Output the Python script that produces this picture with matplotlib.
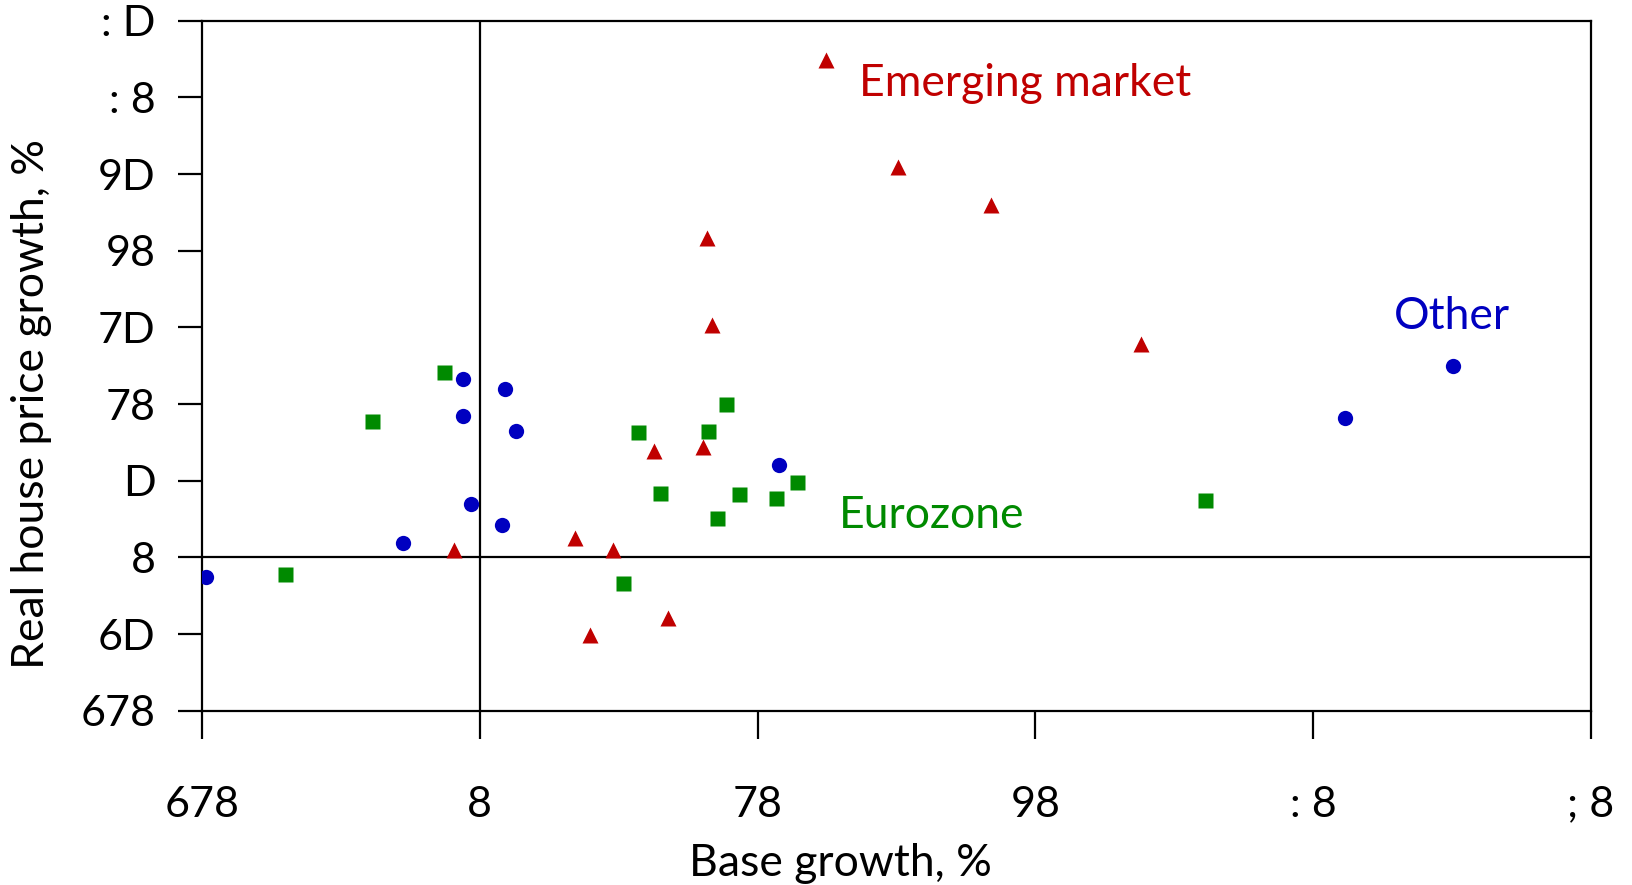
import matplotlib
matplotlib.use("Agg")
import matplotlib.pyplot as plt

plt.rcParams['font.family'] = ['Lato', 'DejaVu Sans']

# Base growth (%) vs real house price growth (%) by market group
emerging_x = [12.46, 15.07, 18.41, 8.18, 8.37, 23.81, 6.28, 8.05, -0.92, 3.43, 4.81, 6.76, 3.97]
emerging_y = [32.42, 25.49, 22.97, 20.80, 15.16, 13.94, 6.93, 7.19, 0.48, 1.27, 0.48, -3.93, -5.08]

eurozone_x = [-1.29, 8.88, 5.71, 8.21, 11.43, 6.48, 9.32, 10.67, 8.55, 5.15, -3.89, -7.00, 26.10]
eurozone_y = [12.10, 9.99, 8.18, 8.22, 4.90, 4.18, 4.16, 3.87, 2.55, -1.69, 8.91, -1.08, 3.75]

other_x = [-0.60, 0.91, -0.60, 1.29, 10.78, -0.33, 0.81, -2.78, -9.86, 31.16, 35.02]
other_y = [11.66, 10.98, 9.20, 8.25, 6.03, 3.46, 2.09, 0.96, -1.28, 9.12, 12.51]

x_ticks = [-10, 0, 10, 20, 30, 40]
x_tick_labels = ['678', '8', '78', '98', ': 8', '; 8']
y_ticks = [-10, -5, 0, 5, 10, 15, 20, 25, 30, 35]
y_tick_labels = ['678', '6D', '8', 'D', '78', '7D', '98', '9D', ': 8', ': D']

RED = '#C00000'
GREEN = '#008A00'
BLUE = '#0000C0'

W, H = 1633, 885
fig = plt.figure(figsize=(W / 100, H / 100), dpi=100)
ax = fig.add_axes([202 / W, 1 - 710.7 / H, (1591 - 202) / W, (710.7 - 20.7) / H])

ax.set_xlim(-10, 40)
ax.set_ylim(-10, 35)

# zero reference lines
ax.axhline(0, color='black', lw=1.6, zorder=1)
ax.axvline(0, color='black', lw=1.6, zorder=1)

ax.plot(other_x, other_y, 'o', color=BLUE, ms=11, mec='none', zorder=3)
ax.plot(eurozone_x, eurozone_y, 's', color=GREEN, ms=10.8, mec='none', zorder=3)
ax.plot(emerging_x, emerging_y, '^', color=RED, ms=12.2, mec='none', zorder=3)

for s in ax.spines.values():
    s.set_linewidth(1.6)
    s.set_color('black')

ax.set_xticks(x_ticks)
ax.set_xticklabels(x_tick_labels)
ax.set_yticks(y_ticks)
ax.set_yticklabels(y_tick_labels)
ax.tick_params(axis='x', direction='out', length=20, width=1.6, pad=34, labelsize=31)
ax.tick_params(axis='y', direction='out', length=17.3, width=1.6, pad=16, labelsize=31)

# group labels
ax.text(13.66, 30.9, 'Emerging market', color=RED, fontsize=32, va='center', ha='left')
ax.text(32.9, 15.7, 'Other', color=BLUE, fontsize=32, va='center', ha='left')
ax.text(12.92, 2.75, 'Eurozone', color=GREEN, fontsize=32, va='center', ha='left')

fig.text(32 / W, 1 - 404 / H, 'Real house price growth, %', rotation=90,
         ha='center', va='center', fontsize=32)
fig.text(840 / W, 1 - 863 / H, 'Base growth, %', ha='center', va='center', fontsize=32)

fig.savefig('out.png', dpi=100, facecolor='white')
